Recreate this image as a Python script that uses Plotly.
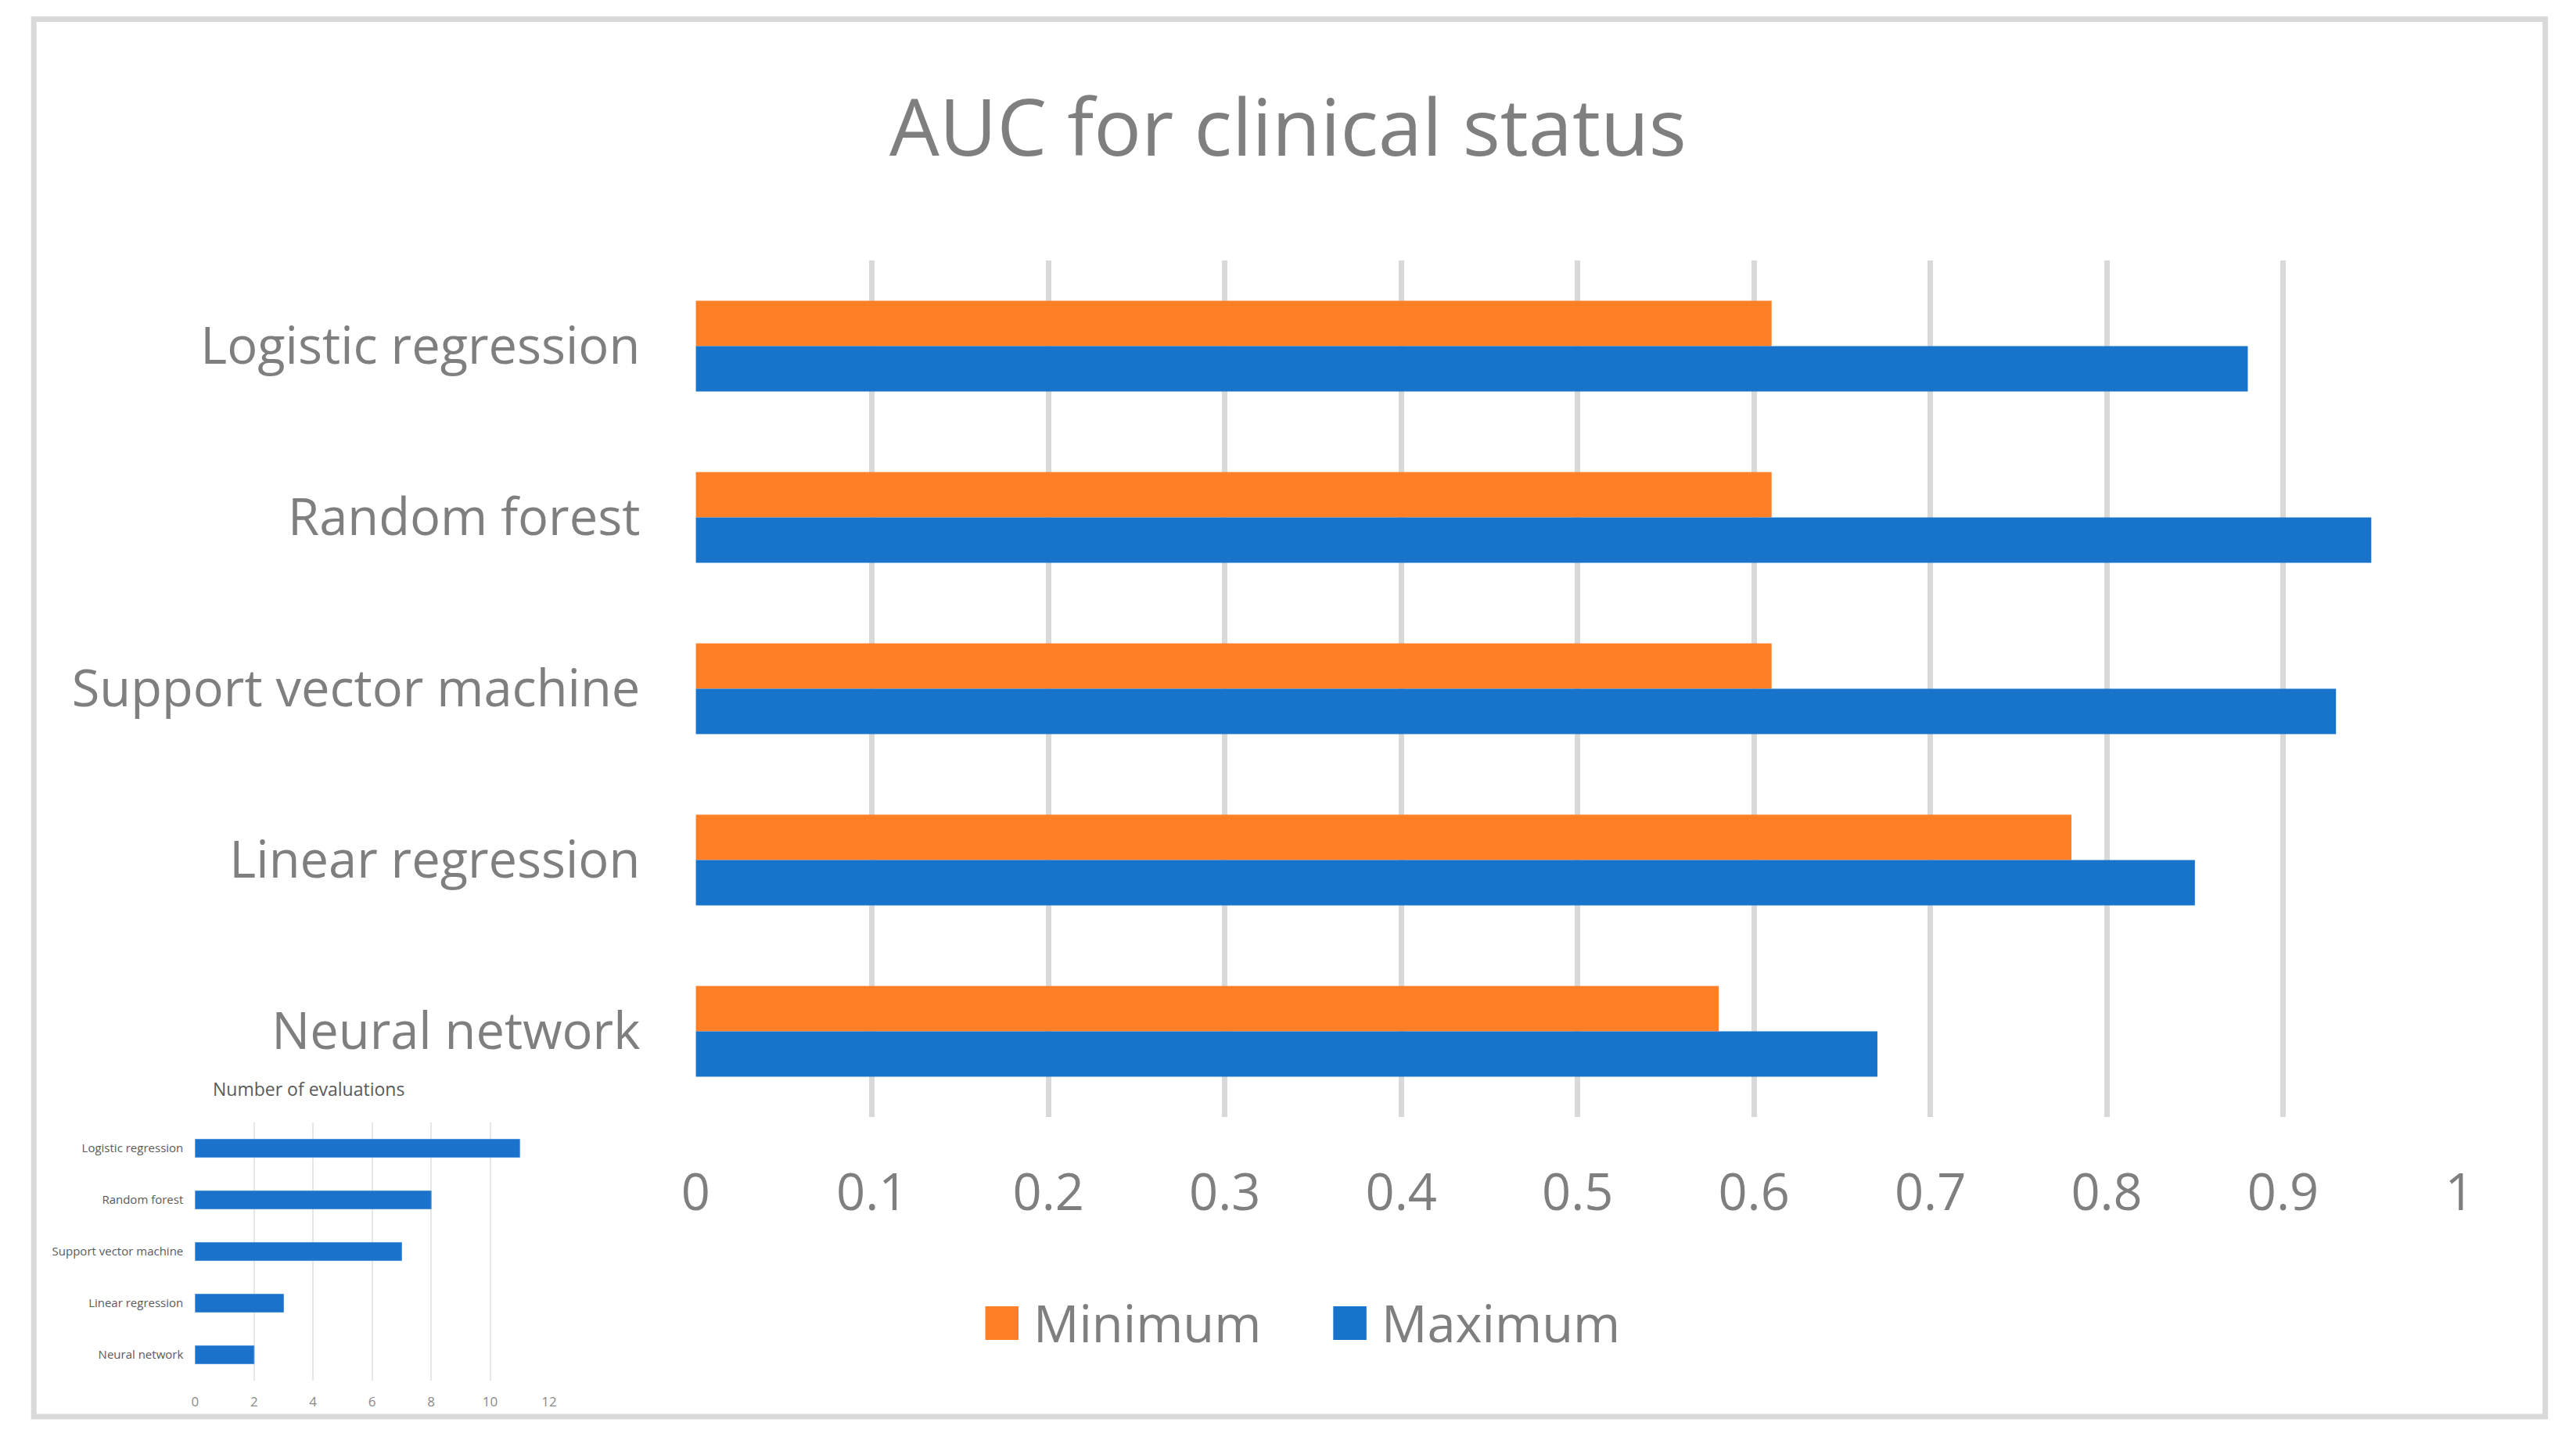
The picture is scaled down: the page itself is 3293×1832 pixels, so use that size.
import plotly.graph_objects as go

W, H = 3293, 1832

# ---- data ----
title = "AUC for clinical status"
categories = ["Logistic regression", "Random forest", "Support vector machine",
              "Linear regression", "Neural network"]
series_names = ["Minimum", "Maximum"]
auc_min = [0.61, 0.61, 0.61, 0.78, 0.58]
auc_max = [0.88, 0.95, 0.93, 0.85, 0.67]
x_ticks = [0, 0.1, 0.2, 0.3, 0.4, 0.5, 0.6, 0.7, 0.8, 0.9, 1]
x_tick_labels = ["0", "0.1", "0.2", "0.3", "0.4", "0.5", "0.6", "0.7", "0.8", "0.9", "1"]

inset_title = "Number of evaluations"
inset_counts = [11, 8, 7, 3, 2]
inset_ticks = [0, 2, 4, 6, 8, 10, 12]

colors = ["#FF7F27", "#1874CB"]
GRAY_TXT = "#7F7F7F"
GRID = "#D9D9D9"
FONT = "Open Sans"


def px(x):
    return x / W


def py(y):
    return 1 - y / H


fig = go.Figure()

for name, vals, col in zip(series_names, [auc_min, auc_max], colors):
    fig.add_trace(go.Bar(
        y=categories, x=vals, name=name, orientation="h",
        marker=dict(color=col, line=dict(width=0)),
        xaxis="x", yaxis="y", showlegend=False,
    ))

fig.add_trace(go.Bar(
    y=categories, x=inset_counts, orientation="h", width=0.35,
    marker=dict(color="#1A72CB", line=dict(width=1, color="#4A90D9")),
    xaxis="x2", yaxis="y2", showlegend=False,
))

fig.update_layout(
    width=W, height=H,
    margin=dict(l=0, r=0, t=0, b=0),
    paper_bgcolor="white", plot_bgcolor="white",
    barmode="group", bargap=0.47, bargroupgap=0,
    font=dict(family=FONT, color=GRAY_TXT),
    xaxis=dict(
        domain=[px(880.5), px(3161.5)], range=[0, 1],
        tickvals=x_ticks, ticktext=x_tick_labels,
        showgrid=True, gridcolor=GRID, gridwidth=7,
        zeroline=False, showline=False, ticks="",
        tickfont=dict(size=65, color=GRAY_TXT, family=FONT),
        ticklabelstandoff=53, anchor="y",
    ),
    yaxis=dict(
        domain=[py(1428), py(333)], autorange="reversed",
        showgrid=False, zeroline=False, showline=False, ticks="",
        tickfont=dict(size=65, color=GRAY_TXT, family=FONT),
        ticklabelstandoff=70, anchor="x",
    ),
    xaxis2=dict(
        domain=[px(233), px(691)], range=[0, 12], tickvals=inset_ticks,
        showgrid=True, gridcolor="#E6E6E6", gridwidth=2,
        zeroline=False, showline=False, ticks="",
        tickfont=dict(size=17, color="#8A8A8A", family=FONT),
        ticklabelstandoff=15, anchor="y2",
    ),
    yaxis2=dict(
        domain=[py(1765), py(1435)], autorange="reversed",
        showgrid=False, zeroline=False, showline=False, ticks="",
        tickfont=dict(size=15, color="#5A5A5A", family=FONT),
        ticklabelstandoff=14, anchor="x2",
    ),
)

# outer frame
fig.add_shape(type="rect", xref="paper", yref="paper",
              x0=px(24.5), x1=px(3272.5), y0=py(1811), y1=py(24.5),
              line=dict(color=GRID, width=7), layer="below")

# title
fig.add_annotation(text=title, xref="paper", yref="paper", x=0.5, y=py(160),
                   xanchor="center", yanchor="middle", showarrow=False,
                   font=dict(size=101, color=GRAY_TXT, family=FONT))

# inset title
fig.add_annotation(text=inset_title, xref="paper", yref="paper", x=px(380), y=py(1392),
                   xanchor="center", yanchor="middle", showarrow=False,
                   font=dict(size=23, color="#5A5A5A", family=FONT))

# custom legend (large square swatches)
leg_sw_x = [1255, 1705]
for name, col, sx in zip(series_names, colors, leg_sw_x):
    fig.add_shape(type="rect", xref="paper", yref="paper",
                  x0=px(sx), x1=px(sx + 43), y0=py(1713), y1=py(1670),
                  fillcolor=col, line=dict(width=0))
    fig.add_annotation(text=name, xref="paper", yref="paper", x=px(sx + 60), y=py(1691),
                       xanchor="left", yanchor="middle", showarrow=False,
                       font=dict(size=65, color=GRAY_TXT, family=FONT))

fig.write_html(
    "out.html",
    config={"displayModeBar": False},
    post_script="document.body.style.margin='0';document.body.style.padding='0';"
                "document.documentElement.style.overflow='hidden';",
)
